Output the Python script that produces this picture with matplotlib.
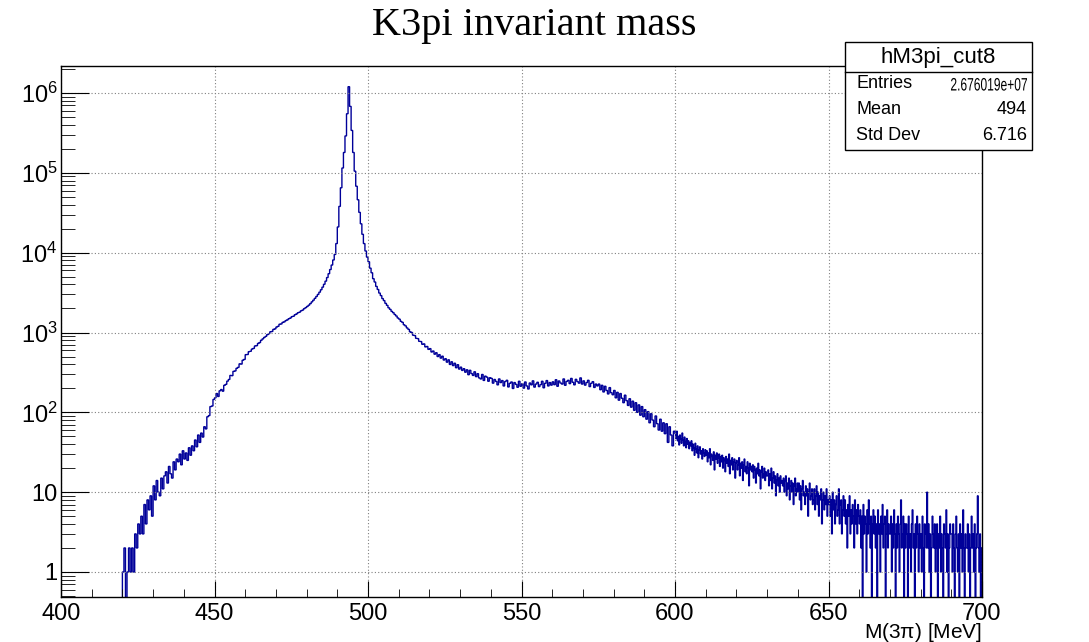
#!/usr/bin/env python3

import matplotlib
matplotlib.use("Agg")
import matplotlib.pyplot as plt
from matplotlib.patches import Rectangle, PathPatch
from matplotlib.textpath import TextPath
from matplotlib.font_manager import FontProperties
from matplotlib.transforms import Affine2D, IdentityTransform
from matplotlib.ticker import MultipleLocator, LogLocator, FixedLocator, FixedFormatter, NullFormatter
import numpy as np

# Bin counts.
# 400-600 MeV in 0.5 MeV bins, 600-700 MeV in 0.25 MeV bins (the noisy tail).
counts_400_450 = [0] * 40 + [
    1, 2, 0, 1, 2, 1, 2, 1, 3, 2,
    4, 3, 5, 3, 7, 4, 8, 6, 9, 5,
    12, 8, 14, 10, 9, 15, 11, 16, 18, 13,
    21, 17, 15, 24, 19, 26, 24, 30, 22, 33,
    26, 31, 25, 36, 29, 38, 33, 45, 37, 52,
    42, 55, 49, 66, 62, 88, 91, 118, 120, 145,
]
counts_450_500 = [
    152, 172, 158, 186, 193, 184, 218, 224, 246, 258,
    290, 288, 326, 330, 356, 366, 405, 402, 450, 460,
    528, 530, 575, 582, 620, 632, 678, 684, 730, 748,
    800, 832, 868, 895, 940, 965, 1020, 1030, 1095, 1110,
    1170, 1195, 1270, 1280, 1340, 1360, 1410, 1440, 1490, 1520,
    1580, 1600, 1670, 1710, 1770, 1800, 1870, 1910, 1990, 2050,
    2120, 2200, 2300, 2420, 2540, 2680, 2830, 3000, 3200, 3430,
    3700, 4020, 4400, 4880, 5450, 6150, 7000, 8100, 9500, 13000,
    21000, 38000, 65000, 115000, 180000, 290000, 550000, 1200000, 680000, 340000,
    180000, 105000, 68000, 46000, 32000, 23000, 17000, 13000, 10500, 8800,
]
counts_500_550 = [
    7700, 6400, 5600, 4720, 4290, 3780, 3460, 3120, 2900, 2660,
    2510, 2320, 2190, 2040, 1950, 1840, 1770, 1680, 1610, 1520,
    1470, 1380, 1340, 1250, 1210, 1140, 1095, 1020, 1000, 925,
    915, 845, 838, 775, 770, 712, 720, 660, 668, 615,
    628, 570, 586, 535, 558, 500, 528, 478, 505, 452,
    470, 425, 455, 398, 430, 385, 412, 362, 395, 348,
    368, 335, 352, 318, 341, 296, 336, 306, 290, 322,
    280, 305, 270, 262, 298, 251, 284, 276, 245, 271,
    266, 232, 258, 244, 221, 262, 236, 250, 214, 243,
    252, 208, 231, 240, 199, 236, 224, 206, 245, 212,
]
counts_550_600 = [
    228, 201, 240, 214, 196, 233, 221, 248, 207, 226,
    238, 210, 222, 245, 203, 231, 250, 214, 236, 219,
    241, 222, 256, 212, 247, 233, 226, 262, 218, 244,
    252, 229, 266, 238, 221, 259, 243, 232, 270, 226,
    248, 219, 236, 252, 210, 231, 242, 205, 226, 214,
    226, 192, 218, 180, 212, 188, 170, 204, 176, 166,
    188, 152, 178, 142, 172, 150, 132, 164, 140, 122,
    148, 116, 138, 106, 132, 100, 124, 92, 118, 88,
    108, 82, 102, 74, 96, 80, 66, 90, 72, 60,
    82, 58, 74, 54, 72, 42, 66, 52, 38, 58,
]
counts_600_650 = [
    54, 47, 58, 44, 50, 39, 52, 46, 41, 55, 45, 38, 49, 43, 36, 47, 40, 44, 35, 42,
    38, 44, 33, 40, 36, 29, 41, 35, 31, 38, 27, 34, 37, 30, 33, 26, 35, 31, 28, 34,
    29, 33, 24, 31, 27, 35, 22, 30, 28, 25, 32, 19, 29, 26, 31, 23, 27, 30, 21, 28,
    24, 29, 20, 27, 25, 18, 28, 23, 26, 21, 30, 17, 25, 22, 27, 19, 24, 26, 15, 23,
    25, 19, 22, 27, 16, 23, 20, 24, 14, 22, 26, 18, 21, 17, 24, 20, 12, 23, 19, 21,
    18, 22, 15, 21, 19, 13, 20, 17, 23, 16, 19, 11, 18, 21, 15, 17, 20, 14, 18, 16,
    16, 19, 12, 17, 14, 20, 11, 15, 18, 13, 16, 9, 14, 17, 12, 15, 10, 16, 13, 14,
    12, 15, 10, 14, 16, 9, 13, 11, 15, 8, 12, 14, 10, 13, 7, 12, 15, 9, 11, 13,
    10, 13, 8, 12, 6, 11, 14, 9, 10, 7, 12, 9, 11, 5, 10, 13, 8, 9, 11, 7,
    8, 11, 6, 9, 12, 7, 10, 5, 9, 8, 11, 4, 8, 10, 6, 9, 7, 11, 5, 8,
]
counts_650_700 = [
    7, 9, 5, 8, 3, 10, 6, 8, 4, 7, 9, 5, 6, 11, 4, 7, 8, 3, 6, 9,
    5, 8, 4, 6, 2, 7, 5, 9, 3, 6, 4, 7, 5, 2, 8, 4, 6, 3, 7, 5,
    4, 6, 2, 5, 0, 7, 3, 5, 4, 1, 6, 3, 8, 4, 2, 5, 0, 4, 6, 3,
    5, 2, 4, 0, 6, 3, 4, 1, 5, 3, 7, 2, 4, 5, 0, 3, 6, 2, 4, 3,
    3, 5, 1, 4, 2, 6, 3, 0, 4, 2, 5, 3, 1, 4, 8, 2, 3, 5, 0, 4,
    2, 4, 3, 0, 5, 2, 3, 1, 4, 6, 2, 3, 0, 4, 2, 5, 3, 1, 4, 2,
    3, 1, 5, 2, 0, 4, 3, 2, 10, 2, 4, 1, 3, 0, 2, 5, 3, 2, 4, 1,
    2, 4, 0, 3, 2, 5, 1, 3, 2, 0, 4, 3, 2, 6, 1, 3, 0, 2, 4, 3,
    3, 1, 4, 2, 0, 3, 5, 2, 1, 3, 0, 4, 2, 3, 1, 6, 2, 0, 3, 2,
    2, 4, 1, 3, 0, 2, 5, 2, 3, 1, 4, 0, 2, 3, 9, 2, 1, 3, 0, 2,
]

y_ticks = [1, 10, 1e2, 1e3, 1e4, 1e5, 1e6]
y_tick_labels = ["1", "10", "$10^{2}$", "$10^{3}$", "$10^{4}$", "$10^{5}$", "$10^{6}$"]

stats_name = "hM3pi_cut8"
stats_rows = [("Entries", "2.676019e+07"), ("Mean", "494"), ("Std Dev", "6.716")]

plt.rcParams["font.family"] = ["Liberation Sans", "DejaVu Sans"]
plt.rcParams["mathtext.default"] = "regular"

coarse = counts_400_450 + counts_450_500 + counts_500_550 + counts_550_600
fine = counts_600_650 + counts_650_700
counts = np.array(coarse + fine, dtype=float)
edges = np.concatenate([np.linspace(400, 600, len(coarse) + 1),
                        np.linspace(600, 700, len(fine) + 1)[1:]])

W, H = 1089, 642
fig = plt.figure(figsize=(W / 100, H / 100), dpi=100)
ax = fig.add_axes([61 / W, 1 - 597 / H, 921 / W, 531 / H])

# Empty bins drop to the bottom edge as in ROOT's log view.
ax.stairs(np.where(counts > 0, counts, 1e-3), edges, color="#000099", lw=1.0)

ax.set_yscale("log")
ax.set_xlim(400, 700)
ax.set_ylim(0.486, 2.18e6)

ax.xaxis.set_major_locator(MultipleLocator(50))
ax.xaxis.set_minor_locator(MultipleLocator(10))
ax.yaxis.set_major_locator(FixedLocator(y_ticks))
ax.yaxis.set_major_formatter(FixedFormatter(y_tick_labels))
ax.yaxis.set_minor_locator(LogLocator(base=10, subs=np.arange(2, 10)))
ax.yaxis.set_minor_formatter(NullFormatter())

ax.tick_params(axis="both", which="both", direction="in", labelsize=17, colors="black")
ax.tick_params(axis="x", which="major", length=11.5, pad=4)
ax.tick_params(axis="x", which="minor", length=5.8)
ax.tick_params(axis="y", which="major", length=20, pad=2.5)
ax.tick_params(axis="y", which="minor", length=10)
ax.grid(True, which="major", linestyle=(0, (1, 2)), color="#808080", lw=0.8)
for sp in ax.spines.values():
    sp.set_linewidth(1.0)

fig.text(982 / W, 1 - 632 / H, r"M(3$\pi$) [MeV]", ha="right", va="center", fontsize=15)
fig.text(534 / W, 1 - 25 / H, "K3pi invariant mass", ha="center", va="center",
         fontsize=29, family="Liberation Serif")

# Stats box in the upper right corner.
bx0, by0, bx1, by1 = 845, 42, 1032, 150
fig.patches.append(Rectangle((bx0 / W, 1 - by1 / H), (bx1 - bx0) / W, (by1 - by0) / H,
                             transform=fig.transFigure, facecolor="white",
                             edgecolor="black", lw=1.0, zorder=5))
fig.lines.append(plt.Line2D([bx0 / W, bx1 / W], [1 - 72 / H, 1 - 72 / H],
                            transform=fig.transFigure, color="black", lw=1.0, zorder=6))
fig.text((bx0 + bx1) / 2 / W, 1 - 57 / H, stats_name, ha="center", va="center",
         fontsize=16, zorder=7)
for i, (name, val) in enumerate(stats_rows):
    row_y = 84 + 25.5 * i
    fig.text(856 / W, 1 - row_y / H, name, ha="left", va="center", fontsize=13, zorder=7)
    if len(val) > 8:
        # ROOT squeezes a long value to fit the box: draw it as a narrowed path.
        tp = TextPath((0, 0), val, size=18, prop=FontProperties(family="Liberation Sans"))
        ext = tp.get_extents()
        sx = 76 / ext.width
        tr = Affine2D().translate(-ext.x1, 0).scale(sx, 1).translate(1027, H - row_y - 6.5)
        fig.patches.append(PathPatch(tr.transform_path(tp), transform=IdentityTransform(),
                                     facecolor="black", edgecolor="none", zorder=7))
    else:
        fig.text(1027 / W, 1 - row_y / H, val, ha="right", va="center", fontsize=13, zorder=7)

fig.savefig("out.png", dpi=100)
